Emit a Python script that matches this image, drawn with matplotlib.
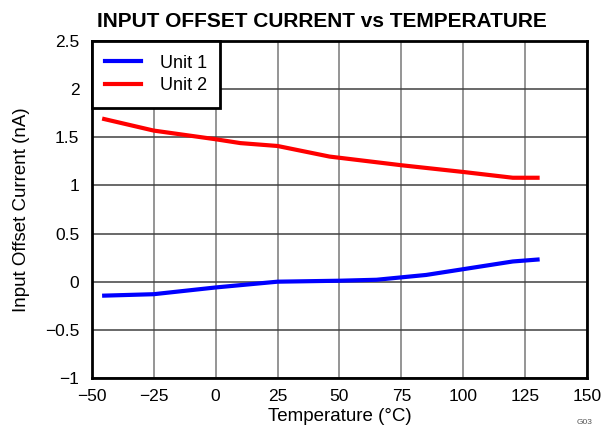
import matplotlib
matplotlib.use('Agg')
import matplotlib.pyplot as plt

plt.rcParams['font.family'] = ['Liberation Sans', 'DejaVu Sans']

# Unit 1
temp_u1 = [-45, -25, 0, 25, 50, 65, 85, 100, 120, 130]
cur_u1 = [-0.145, -0.13, -0.06, 0.0, 0.01, 0.02, 0.07, 0.13, 0.21, 0.23]

# Unit 2
temp_u2 = [-45, -25, 0, 10, 25, 46, 75, 100, 120, 130]
cur_u2 = [1.69, 1.57, 1.48, 1.44, 1.41, 1.30, 1.21, 1.14, 1.08, 1.08]

xticks = [-50, -25, 0, 25, 50, 75, 100, 125, 150]
yticks = [-1, -0.5, 0, 0.5, 1, 1.5, 2, 2.5]

fig = plt.figure(figsize=(6.04, 4.28), dpi=100)
ax = fig.add_axes([0.152, 0.117, 0.82, 0.787])

ax.plot(temp_u1, cur_u1, color='#0000ff', lw=3, label='Unit 1')
ax.plot(temp_u2, cur_u2, color='#ff0000', lw=3, label='Unit 2')

ax.set_xlim(-50, 150)
ax.set_ylim(-1, 2.5)
ax.set_xticks(xticks)
ax.set_yticks(yticks)
ax.set_xticklabels([str(t).replace('-', '\u2212') for t in xticks])
ax.set_yticklabels([('%g' % t).replace('-', '\u2212') for t in yticks])
ax.tick_params(labelsize=12.5, length=0)
ax.tick_params(axis='y', pad=9)
ax.tick_params(axis='x', pad=8)
ax.xaxis.grid(True, color='#8c8c8c', lw=1.3)
ax.yaxis.grid(True, color='#404040', lw=1.1)
for s in ax.spines.values():
    s.set_linewidth(2)

ax.set_xlabel('Temperature (°C)', fontsize=13.5, labelpad=3)
ax.set_ylabel('Input Offset Current (nA)', fontsize=13.5, labelpad=11)
ax.set_title('INPUT OFFSET CURRENT vs TEMPERATURE', fontsize=15, fontweight='bold',
             pad=10, x=0.465)

leg = ax.legend(loc='upper left', fontsize=13, fancybox=False, framealpha=1,
                borderaxespad=0, handlelength=2.0, borderpad=0.75,
                labelspacing=0.3, handletextpad=1.0)
leg.get_frame().set_edgecolor('black')
leg.get_frame().set_linewidth(2)

fig.text(0.955, 0.005, 'G03', fontsize=6, color='#555555', ha='left', va='bottom')

fig.savefig('out.png', dpi=100)
